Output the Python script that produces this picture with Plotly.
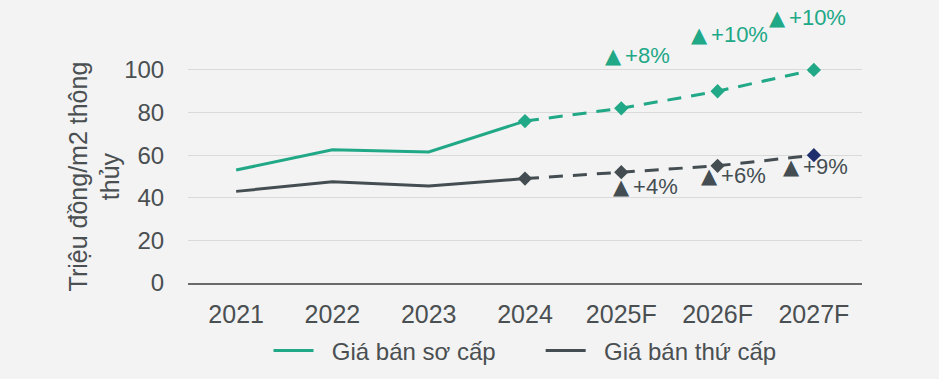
import plotly.graph_objects as go

categories = ["2021", "2022", "2023", "2024", "2025F", "2026F", "2027F"]
primary = [53, 62.5, 61.5, 76, 82, 90, 100]
secondary = [43, 47.5, 45.5, 49, 52, 55, 60]
actual_n = 4  # 2021-2024 actual, 2024-2027F forecast

primary_growth = ["+8%", "+10%", "+10%"]
primary_label_y = [107, 116.5, 124.5]
primary_label_shift = [-18, -29, -47]
secondary_growth = ["+4%", "+6%", "+9%"]
secondary_label_y = [45.5, 50.5, 54.5]
secondary_label_shift = [-10, -19, -33]
forecast_cats = categories[4:]

GREEN = "#21A886"
GREY = "#444E52"
NAVY = "#1F2F6E"
BG = "#f3f3f3"
FONT = "Liberation Sans, Arial, sans-serif"
TXT = "#4a4f52"
TRI = '<span style="font-family:DejaVu Sans;font-size:21px">▲</span><span style="font-size:14px">\u00a0</span>'
NB = "\u00a0"

fig = go.Figure()
fig.add_trace(go.Scatter(x=categories[:actual_n], y=primary[:actual_n], mode="lines",
                         line=dict(color=GREEN, width=3), name=NB * 2 + "Giá bán sơ cấp" + NB * 6))
fig.add_trace(go.Scatter(x=categories[:actual_n], y=secondary[:actual_n], mode="lines",
                         line=dict(color=GREY, width=3), name=NB * 2 + "Giá bán thứ cấp"))
fig.add_trace(go.Scatter(x=categories[actual_n - 1:], y=primary[actual_n - 1:], mode="lines+markers",
                         line=dict(color=GREEN, width=3, dash="14px,10px"),
                         marker=dict(symbol="diamond", size=11, color=GREEN),
                         showlegend=False, cliponaxis=False))
sec_colors = [GREY] * (len(categories) - actual_n) + [NAVY]
fig.add_trace(go.Scatter(x=categories[actual_n - 1:], y=secondary[actual_n - 1:], mode="lines+markers",
                         line=dict(color=GREY, width=3, dash="14px,10px"),
                         marker=dict(symbol="diamond", size=11, color=sec_colors),
                         showlegend=False, cliponaxis=False))

for c, g, yv, sh in zip(forecast_cats, primary_growth, primary_label_y, primary_label_shift):
    fig.add_annotation(x=c, y=yv, xref="x", yref="y", text=TRI + g, showarrow=False,
                       xanchor="left", yanchor="middle", xshift=sh,
                       font=dict(family=FONT, size=22, color=GREEN))
for c, g, yv, sh in zip(forecast_cats, secondary_growth, secondary_label_y, secondary_label_shift):
    fig.add_annotation(x=c, y=yv, xref="x", yref="y", text=TRI + g, showarrow=False,
                       xanchor="left", yanchor="middle", xshift=sh,
                       font=dict(family=FONT, size=22, color=GREY))

fig.add_annotation(x=0, y=50, xref="paper", yref="y", text="Triệu đồng/m2 thông<br>thủy",
                   textangle=-90, showarrow=False, xanchor="center", yanchor="middle", xshift=-94,
                   font=dict(family=FONT, size=25, color=TXT))

fig.update_layout(
    width=939, height=379,
    margin=dict(l=188, r=77, t=6, b=96),
    paper_bgcolor=BG, plot_bgcolor=BG,
    font=dict(family=FONT, color=TXT),
    showlegend=True,
    legend=dict(orientation="h", x=0.5, xanchor="center", y=-0.245, yanchor="middle",
                font=dict(family=FONT, size=24, color=TXT), bgcolor="rgba(0,0,0,0)",
                itemwidth=40, tracegroupgap=0),
    xaxis=dict(type="category", categoryorder="array", categoryarray=categories,
               range=[-0.5, len(categories) - 0.5],
               showgrid=False, showline=True, linecolor="#6a6a6a", linewidth=2,
               ticks="outside", ticklen=8, tickcolor="rgba(0,0,0,0)",
               tickfont=dict(family=FONT, size=25, color=TXT), zeroline=False),
    yaxis=dict(range=[0, 130], tickvals=[0, 20, 40, 60, 80, 100],
               showgrid=True, gridcolor="#dadada", gridwidth=1, zeroline=False,
               ticks="outside", ticklen=18, tickcolor="rgba(0,0,0,0)",
               tickfont=dict(family=FONT, size=24, color=TXT)),
)

fig.write_html("out.html", config={"displayModeBar": False},
               post_script="document.body.style.margin='0';document.body.style.background='%s';" % BG)
